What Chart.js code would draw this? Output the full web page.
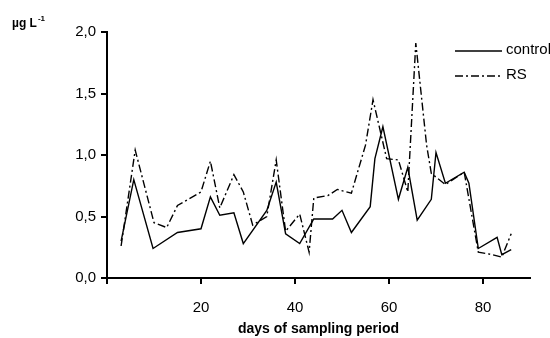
<!DOCTYPE html>
<html>
<head>
<meta charset="utf-8">
<script src="https://cdn.jsdelivr.net/npm/chart.js@4/dist/chart.umd.min.js"></script>
<style>
  html, body { margin: 0; padding: 0; background: #fff; }
  #wrap { position: relative; width: 550px; height: 338px; }
</style>
</head>
<body>
<div id="wrap"><canvas id="chart"></canvas></div>
<script>
// sampling days and concentrations (µg L-1)
const controlDays = [3, 5.7, 9.8, 15, 20, 22, 24, 27, 29, 34, 36, 38, 41, 44, 48, 50, 52, 56, 57, 58.7, 62, 64, 66, 69, 70, 72, 76, 77, 79, 83, 84, 86];
const controlValues = [0.30, 0.80, 0.24, 0.37, 0.40, 0.66, 0.51, 0.53, 0.28, 0.55, 0.78, 0.36, 0.28, 0.48, 0.48, 0.55, 0.37, 0.58, 0.97, 1.23, 0.64, 0.90, 0.47, 0.64, 1.02, 0.77, 0.86, 0.77, 0.24, 0.33, 0.19, 0.23];

const rsDays = [3, 6, 10, 12.7, 15, 20, 22, 24, 27, 29, 31, 34, 36, 38, 41, 43, 44, 47, 49, 52, 55, 56.6, 59.5, 62, 64, 65.7, 68, 69, 72, 76, 79, 82, 84, 86];
const rsValues = [0.26, 1.04, 0.45, 0.41, 0.59, 0.70, 0.95, 0.57, 0.84, 0.70, 0.43, 0.50, 0.96, 0.38, 0.52, 0.21, 0.65, 0.67, 0.72, 0.69, 1.08, 1.45, 0.97, 0.96, 0.70, 1.91, 1.08, 0.85, 0.76, 0.86, 0.21, 0.19, 0.17, 0.36];

const xTicks = [0, 20, 40, 60, 80];
const yTicks = [0, 0.5, 1.0, 1.5, 2.0];

const FONT = '"Liberation Sans", Arial, Helvetica, sans-serif';
const RS_DASH = [8, 3, 2, 3];

function toPoints(xs, ys) {
	return xs.map((x, i) => ({ x: x, y: ys[i] }));
}

// y title and legend drawn on top of the chart
const extras = {
	id: 'extras',
	afterDraw(chart) {
		const ctx = chart.ctx;
		ctx.save();
		ctx.fillStyle = '#000';
		ctx.textBaseline = 'alphabetic';
		ctx.textAlign = 'left';
		ctx.font = 'bold 12px ' + FONT;
		ctx.fillText('µg L', 12, 27);
		const w = ctx.measureText('µg L').width;
		ctx.font = 'bold 8px ' + FONT;
		ctx.fillText('-1', 12 + w + 1, 21);

		// legend
		ctx.strokeStyle = '#000';
		ctx.lineWidth = 1.4;
		ctx.beginPath();
		ctx.moveTo(455, 51);
		ctx.lineTo(502, 51);
		ctx.stroke();
		ctx.setLineDash(RS_DASH);
		ctx.beginPath();
		ctx.moveTo(455, 76);
		ctx.lineTo(502, 76);
		ctx.stroke();
		ctx.setLineDash([]);
		ctx.font = '15px ' + FONT;
		ctx.textBaseline = 'middle';
		ctx.fillText('control', 506, 50);
		ctx.fillText('RS', 506, 75);
		ctx.restore();
	}
};

new Chart(document.getElementById('chart'), {
	type: 'line',
	data: {
		datasets: [{
			label: 'control',
			data: toPoints(controlDays, controlValues),
			borderColor: '#000',
			borderWidth: 1.4,
			pointRadius: 0,
			tension: 0
		}, {
			label: 'RS',
			data: toPoints(rsDays, rsValues),
			borderColor: '#000',
			borderWidth: 1.4,
			borderDash: RS_DASH,
			pointRadius: 0,
			tension: 0
		}]
	},
	options: {
		responsive: true,
		maintainAspectRatio: false,
		animation: false,
		layout: { padding: { top: 32, right: 20, left: 0, bottom: 0 } },
		plugins: {
			legend: { display: false },
			tooltip: { enabled: false }
		},
		scales: {
			x: {
				type: 'linear',
				min: 0,
				max: 90,
				afterBuildTicks: (scale) => { scale.ticks = xTicks.map(v => ({ value: v })); },
				afterFit: (scale) => { scale.height = 60; },
				border: { color: '#000', width: 2 },
				grid: { drawOnChartArea: false, drawTicks: true, tickLength: 6, color: '#000', lineWidth: 2 },
				ticks: {
					color: '#000',
					font: { family: FONT, size: 15 },
					padding: 15,
					maxRotation: 0,
					callback: (v) => (v === 0 ? '' : String(v))
				},
				title: {
					display: true,
					text: 'days of sampling period',
					color: '#000',
					font: { family: FONT, size: 14, weight: 'bold' },
					padding: { top: 0, bottom: 0 }
				}
			},
			y: {
				min: 0,
				max: 2,
				afterBuildTicks: (scale) => { scale.ticks = yTicks.map(v => ({ value: v })); },
				afterFit: (scale) => { scale.width = 107; },
				border: { color: '#000', width: 2 },
				grid: { drawOnChartArea: false, drawTicks: true, tickLength: 6, color: '#000', lineWidth: 2 },
				ticks: {
					color: '#000',
					font: { family: FONT, size: 15 },
					padding: 5,
					callback: (v) => v.toFixed(1).replace('.', ',')
				}
			}
		}
	},
	plugins: [extras]
});
</script>
</body>
</html>
